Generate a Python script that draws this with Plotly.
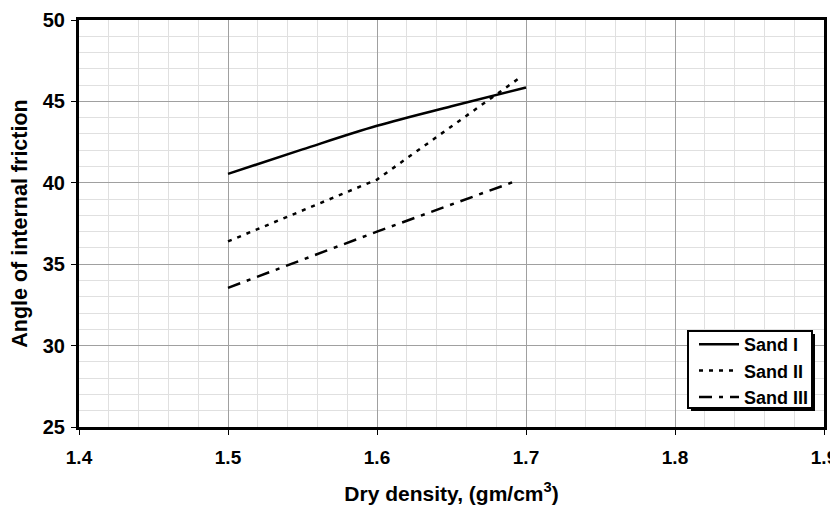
import plotly.graph_objects as go

# Data
sand1_x = [1.5, 1.55, 1.6, 1.65, 1.7]
sand1_y = [40.55, 42.05, 43.5, 44.7, 45.85]
sand2_x = [1.5, 1.6, 1.695]
sand2_y = [36.4, 40.2, 46.4]
sand3_x = [1.5, 1.6, 1.693]
sand3_y = [33.55, 37.0, 40.1]
names = ["Sand I", "Sand II", "Sand III"]
x_ticks = [1.4, 1.5, 1.6, 1.7, 1.8, 1.9]
y_ticks = [25, 30, 35, 40, 45, 50]

FONT = "Liberation Sans, Arial, sans-serif"
OFF = 8                      # browser's default body margin
FW, FH = 838 - OFF, 508 - OFF
L, R, T, B = 79, 824, 20, 427  # plot area in page pixels
PW, PH = R - L, B - T


def px(x):
    return (x - L) / PW


def py(y):
    return (B - y) / PH


fig = go.Figure()
fig.add_trace(go.Scatter(x=sand1_x, y=sand1_y, mode="lines", name=names[0],
                         line=dict(color="black", width=2.5, shape="spline")))
fig.add_trace(go.Scatter(x=sand2_x, y=sand2_y, mode="lines", name=names[1],
                         line=dict(color="black", width=2.5, dash="4px,6px")))
fig.add_trace(go.Scatter(x=sand3_x, y=sand3_y, mode="lines", name=names[2],
                         line=dict(color="black", width=2.5, dash="13px,7px,4px,7px")))

# legend box with shadow
fig.add_shape(type="rect", xref="paper", yref="paper",
              x0=px(691), x1=px(815), y0=py(411), y1=py(334),
              fillcolor="black", line=dict(width=0), layer="above")
fig.add_shape(type="rect", xref="paper", yref="paper",
              x0=px(688), x1=px(812), y0=py(408), y1=py(331),
              fillcolor="white", line=dict(width=2, color="black"), layer="above")

fig.update_layout(
    width=FW, height=FH,
    margin=dict(l=L - OFF, r=FW - (R - OFF), t=T - OFF, b=FH - (B - OFF)),
    paper_bgcolor="white", plot_bgcolor="white",
    font=dict(family=FONT, color="black"),
    showlegend=True,
    legend=dict(x=px(694), y=py(326), xanchor="left", yanchor="top",
                bgcolor="rgba(0,0,0,0)", borderwidth=0,
                font=dict(size=18, family=FONT, weight="bold"),
                tracegroupgap=0, itemwidth=40),
    xaxis=dict(range=[1.4, 1.9], tickvals=x_ticks, ticktext=[f"{v:.1f}" for v in x_ticks],
               showgrid=True, gridcolor="#a0a0a0", gridwidth=1,
               minor=dict(dtick=0.02, showgrid=True, gridcolor="#e0e0e0", gridwidth=1),
               showline=True, linecolor="black", linewidth=3, mirror=True,
               ticks="outside", ticklen=5, tickcolor="black", tickwidth=1,
               tickfont=dict(size=19, family=FONT, weight="bold"),
               ticklabelstandoff=6,
               automargin=False,
               title=dict(text="Dry density, (gm/cm<sup>3</sup>)", standoff=20,
                          font=dict(size=21, family=FONT, weight="bold")),
               zeroline=False),
    yaxis=dict(range=[25, 50], tickvals=y_ticks,
               showgrid=True, gridcolor="#a0a0a0", gridwidth=1,
               minor=dict(dtick=1, showgrid=True, gridcolor="#e0e0e0", gridwidth=1),
               showline=True, linecolor="black", linewidth=3, mirror=True,
               ticks="outside", ticklen=5, tickcolor="black", tickwidth=1,
               tickfont=dict(size=20, family=FONT, weight="bold"),
               ticklabelstandoff=2,
               automargin=False,
               title=dict(text="Angle of internal friction", standoff=15,
                          font=dict(size=21.5, family=FONT, weight="bold")),
               zeroline=False),
)

fig.write_html("out.html")
